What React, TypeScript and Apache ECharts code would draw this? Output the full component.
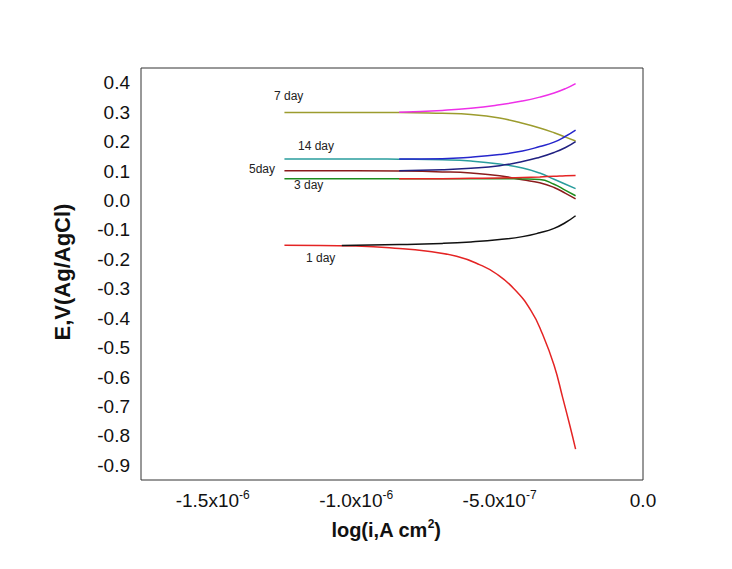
import React, { useEffect, useRef } from "react";
import * as echarts from "echarts";

// x values in units of 1e-6 A cm^-2
const xCath = [-1.25, -1.0, -0.85, -0.7, -0.6, -0.5, -0.42, -0.36, -0.31, -0.27, -0.235];
const xAnod = [-0.85, -0.7, -0.6, -0.5, -0.42, -0.36, -0.31, -0.27, -0.235];
const xAnod1 = [-1.05, -0.85, -0.7, -0.6, -0.5, -0.42, -0.36, -0.31, -0.27, -0.235];
const xCath1 = [-1.25, -1.0, -0.85, -0.75, -0.65, -0.57, -0.51, -0.45, -0.39, -0.35, -0.31, -0.28, -0.255, -0.235];

const day7Cath = [0.299, 0.299, 0.299, 0.296, 0.292, 0.28, 0.262, 0.246, 0.23, 0.215, 0.202];
const day7Anod = [0.3, 0.306, 0.313, 0.325, 0.338, 0.351, 0.365, 0.38, 0.397];
const day14Cath = [0.141, 0.141, 0.14, 0.138, 0.134, 0.124, 0.11, 0.093, 0.072, 0.055, 0.04];
const day14Anod = [0.141, 0.142, 0.147, 0.156, 0.168, 0.183, 0.198, 0.218, 0.239];
const day5Cath = [0.101, 0.101, 0.1, 0.097, 0.093, 0.084, 0.07, 0.06, 0.044, 0.024, 0.005];
const day5Anod = [0.101, 0.104, 0.109, 0.118, 0.132, 0.147, 0.163, 0.18, 0.2];
const day3Cath = [0.074, 0.074, 0.074, 0.074, 0.074, 0.074, 0.073, 0.071, 0.055, 0.034, 0.016];
const day3Anod = [0.074, 0.074, 0.075, 0.076, 0.078, 0.08, 0.082, 0.084, 0.085];
const day1Cath = [-0.152, -0.155, -0.163, -0.173, -0.19, -0.218, -0.25, -0.3, -0.375, -0.455, -0.56, -0.67, -0.765, -0.845];
const day1Anod = [-0.153, -0.15, -0.146, -0.141, -0.133, -0.123, -0.11, -0.095, -0.075, -0.052];

const xTickValues = [-1.5, -1.0, -0.5, 0];
const xTickMantissa = ["-1.5", "-1.0", "-5.0", "0.0"];
const xTickExponent = ["-6", "-6", "-7", ""];

const curveLabels = ["7 day", "14 day", "5day", "3 day", "1 day"];

const FONT = "Liberation Sans, Arial, Helvetica, sans-serif";

function pairs(xs: number[], ys: number[]) {
  return xs.map((x, i) => [x, ys[i]]);
}

export default function App() {
  const ref = useRef<HTMLDivElement>(null);
  useEffect(() => {
    if (!ref.current) return;
    const chart = echarts.init(ref.current, undefined, { renderer: "svg" });
    const mk = (name: string, xs: number[], ys: number[], color: string) => ({
      name,
      type: "line",
      data: pairs(xs, ys),
      showSymbol: false,
      smooth: 0.5,
      lineStyle: { width: 1.5, color },
      itemStyle: { color },
    });
    const lbl = (text: string, left: number, top: number) => ({
      type: "text",
      left,
      top,
      style: { text, font: `12px ${FONT}`, fill: "#222" },
    });
    chart.setOption({
      animation: false,
      backgroundColor: "#ffffff",
      grid: {
        left: 141,
        top: 68,
        width: 502,
        height: 412,
        show: true,
        borderColor: "#333333",
        borderWidth: 1,
        backgroundColor: "transparent",
      },
      xAxis: {
        type: "value",
        min: -1.75,
        max: 0,
        interval: 0.25,
        axisLine: { show: false },
        axisTick: { show: false },
        splitLine: { show: false },
        axisLabel: {
          margin: 9,
          color: "#111",
          fontFamily: FONT,
          fontSize: 19,
          formatter: (v: number) => {
            const i = xTickValues.findIndex((t) => Math.abs(t - v) < 1e-6);
            if (i < 0) return "";
            if (!xTickExponent[i]) return `{b|${xTickMantissa[i]}}`;
            return `{b|${xTickMantissa[i]}x10}{s|${xTickExponent[i]}}`;
          },
          rich: {
            b: { fontSize: 19, fontFamily: FONT, color: "#111", lineHeight: 22 },
            s: { fontSize: 12, fontFamily: FONT, color: "#111", lineHeight: 12, verticalAlign: "top" },
          },
        },
      },
      yAxis: {
        type: "value",
        min: -0.95,
        max: 0.45,
        interval: 0.05,
        axisLine: { show: false },
        axisTick: { show: false },
        splitLine: { show: false },
        axisLabel: {
          margin: 11,
          color: "#111",
          fontFamily: FONT,
          fontSize: 19,
          formatter: (v: number) => {
            const k = Math.round(v * 100);
            if (k % 10 !== 0) return "";
            return (Math.round(v * 10) / 10).toFixed(1);
          },
        },
      },
      series: [
        mk("7 day cathodic", xCath, day7Cath, "#9c9c2e"),
        mk("7 day anodic", xAnod, day7Anod, "#ee30e8"),
        mk("14 day cathodic", xCath, day14Cath, "#2a9d9d"),
        mk("14 day anodic", xAnod, day14Anod, "#2626cc"),
        mk("5day cathodic", xCath, day5Cath, "#8b1c1c"),
        mk("5day anodic", xAnod, day5Anod, "#202080"),
        mk("3 day cathodic", xCath, day3Cath, "#1e8c1e"),
        mk("3 day anodic", xAnod, day3Anod, "#e42424"),
        mk("1 day cathodic", xCath1, day1Cath, "#e42424"),
        mk("1 day anodic", xAnod1, day1Anod, "#111111"),
      ],
      graphic: [
        lbl(curveLabels[0], 274, 90),
        lbl(curveLabels[1], 298, 140),
        lbl(curveLabels[2], 249, 163),
        lbl(curveLabels[3], 294, 179),
        lbl(curveLabels[4], 306, 252),
        {
          type: "text",
          x: 62,
          y: 272,
          rotation: Math.PI / 2,
          style: {
            text: "E,V(Ag/AgCl)",
            font: `bold 22px ${FONT}`,
            fill: "#111",
            align: "center",
            verticalAlign: "middle",
          },
        },
        {
          type: "text",
          x: 386,
          y: 530,
          style: {
            text: "{t|log(i,A cm}{s|2}{t|)}",
            align: "center",
            verticalAlign: "middle",
            rich: {
              t: { font: `bold 20px ${FONT}`, fill: "#111", lineHeight: 24 },
              s: { font: `bold 12px ${FONT}`, fill: "#111", lineHeight: 12, verticalAlign: "top" },
            },
          },
        },
      ],
    });
    return () => chart.dispose();
  }, []);
  return (
    <div
      ref={ref}
      style={{ position: "absolute", left: 0, top: 0, width: 732, height: 569 }}
    />
  );
}
